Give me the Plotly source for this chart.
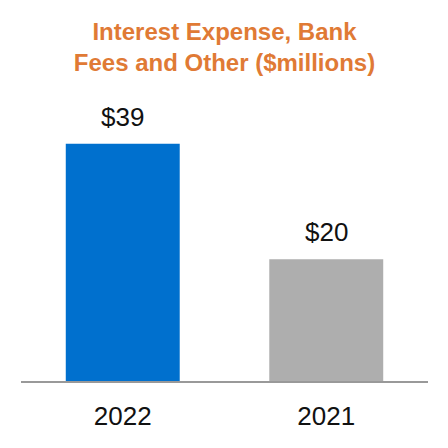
import plotly.graph_objects as go

years = ["2022", "2021"]
values = [39, 20]
labels = ["$39", "$20"]
colors = ["#0070CE", "#AEAEAE"]

font = "Liberation Sans, Arial, sans-serif"

fig = go.Figure(
    go.Bar(
        x=years,
        y=values,
        width=0.56,
        marker=dict(color=colors, line_width=0),
    )
)

# category axis: annotation x given as category index
for i, (v, lab) in enumerate(zip(values, labels)):
    fig.add_annotation(
        x=i, y=v, text=lab, showarrow=False,
        yanchor="bottom", yshift=10,
        font=dict(size=26, color="#111111", family=font),
    )

# page body has an 8px margin, so the figure is 440 and margins are offset
fig.update_layout(
    width=440,
    height=440,
    margin=dict(l=13, r=20, t=92, b=67),
    paper_bgcolor="white",
    plot_bgcolor="white",
    showlegend=False,
    title=dict(
        text="<b>Interest Expense, Bank<br>Fees and Other ($millions)</b>",
        x=0.5, xref="paper", xanchor="center",
        y=0.927, yanchor="top",
        font=dict(size=24, color="#E07A35", family=font),
    ),
)
fig.update_xaxes(
    type="category", range=[-0.5, 1.5], automargin=False,
    showline=True, linecolor="#999999", linewidth=2,
    ticks="outside", ticklen=11, tickcolor="rgba(0,0,0,0)",
    tickfont=dict(size=26, color="#111111", family=font),
    showgrid=False,
)
fig.update_yaxes(range=[0, 46.2], visible=False, showgrid=False, automargin=False)

fig.write_html("out.html")
